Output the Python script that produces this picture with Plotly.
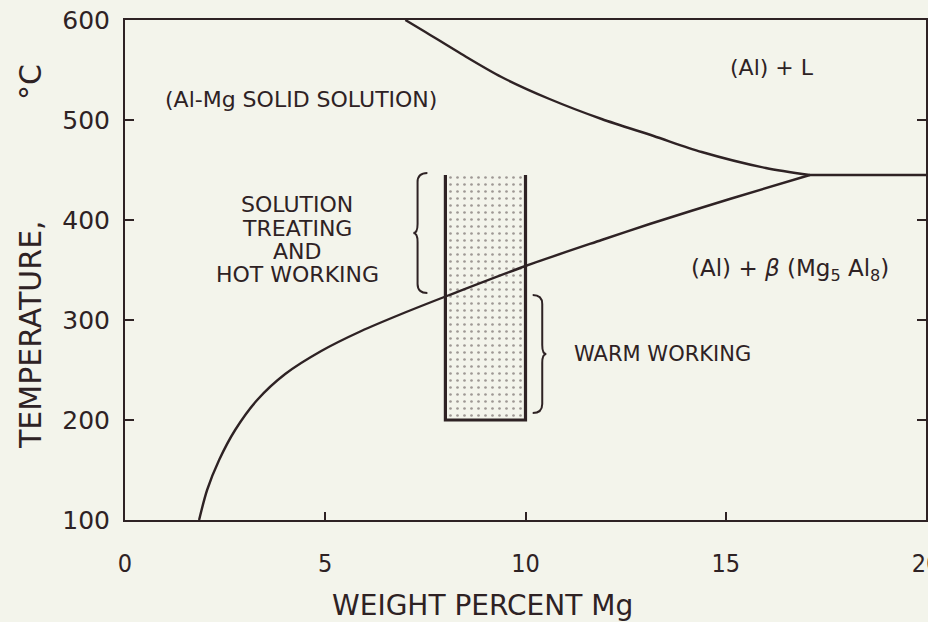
import plotly.graph_objects as go

# Al-Mg phase diagram, aluminium-rich side
# solid solution boundary against (Al)+L
solidus_mg = [7.0, 7.5, 8.4, 9.4, 10.6, 11.9, 13.2, 14.4, 16.0, 17.1]
solidus_t = [600, 588, 566, 543, 521, 501, 484, 468, 452, 445]

# solvus: solubility limit of Mg in (Al)
solvus_mg = [1.85, 2.05, 2.35, 2.75, 3.3, 4.0, 4.9, 5.9, 6.9, 8.1, 10.0, 11.9, 13.1, 15.1, 17.1]
solvus_t = [100, 130, 160, 190, 220, 246, 269, 289, 306, 325, 354, 380, 396, 421, 445]

# eutectic isotherm
eutectic_mg = [17.1, 20.0]
eutectic_t = [445, 445]

# processing band (composition range, temperature range)
band_mg = [8.0, 10.0]
band_t = [200, 445]

# temperature ranges of the two working regimes
hot_range = [327, 447]
warm_range = [207, 325]

x_ticks = [0, 5, 10, 15, 20]
y_ticks = [100, 200, 300, 400, 500, 600]

INK = "#2e2224"
PAPER = "#f3f4eb"
FONT = "DejaVu Sans"

fig = go.Figure()

# stippled band
fig.add_trace(go.Scatter(
    x=[band_mg[0], band_mg[0], band_mg[1], band_mg[1], band_mg[0]],
    y=[band_t[1], band_t[0], band_t[0], band_t[1], band_t[1]],
    mode="lines", line=dict(width=0), fill="toself",
    fillcolor=PAPER,
    fillpattern=dict(shape=".", fgcolor="#4a3c3e", bgcolor=PAPER, size=7, solidity=0.12),
    hoverinfo="skip", showlegend=False,
))
# band edges (open at the top)
fig.add_trace(go.Scatter(
    x=[band_mg[0], band_mg[0], band_mg[1], band_mg[1]],
    y=[band_t[1], band_t[0], band_t[0], band_t[1]],
    mode="lines", line=dict(color=INK, width=3.2),
    hoverinfo="skip", showlegend=False,
))

line_style = dict(color=INK, width=2.4)
fig.add_trace(go.Scatter(x=solidus_mg, y=solidus_t, mode="lines",
                         line=dict(**line_style, shape="spline", smoothing=0.8),
                         showlegend=False))
fig.add_trace(go.Scatter(x=solvus_mg, y=solvus_t, mode="lines",
                         line=dict(**line_style, shape="spline", smoothing=0.8),
                         showlegend=False))
fig.add_trace(go.Scatter(x=eutectic_mg, y=eutectic_t, mode="lines",
                         line=line_style, showlegend=False))


def brace(x_end, x_tip, y_top, y_bot, d=9.0):
    xm = x_end + (x_tip - x_end) * 0.7
    ym = (y_top + y_bot) / 2
    return (f"M {x_end},{y_top} Q {xm},{y_top} {xm},{y_top - d} "
            f"L {xm},{ym + d} Q {xm},{ym} {x_tip},{ym} "
            f"Q {xm},{ym} {xm},{ym - d} "
            f"L {xm},{y_bot + d} Q {xm},{y_bot} {x_end},{y_bot}")


fig.add_shape(type="path", xref="x", yref="y",
              path=brace(7.55, 7.2, hot_range[1], hot_range[0]),
              line=dict(color=INK, width=2))
fig.add_shape(type="path", xref="x", yref="y",
              path=brace(10.18, 10.52, warm_range[1], warm_range[0]),
              line=dict(color=INK, width=2))

ann = [
    dict(x=4.4, y=521, text="(Al-Mg SOLID SOLUTION)",
         font=dict(family=FONT, size=22, color=INK)),
    dict(x=16.15, y=553, text="(Al) + L", font=dict(family=FONT, size=22, color=INK)),
    dict(x=16.6, y=350, text="(Al) + <i>β</i> (Mg<sub>5</sub> Al<sub>8</sub>)",
         font=dict(family=FONT, size=23, color=INK)),
    dict(x=11.16, y=266, text="WARM WORKING", xanchor="left",
         font=dict(family=FONT, size=21, color=INK)),
]
for txt, t in zip(["SOLUTION", "TREATING", "AND", "HOT WORKING"], [416, 392, 369, 346]):
    ann.append(dict(x=4.3, y=t, text=txt, borderpad=0,
                    font=dict(family=FONT, size=22, color=INK)))
for a in ann:
    a.setdefault("xanchor", "center")
    fig.add_annotation(xref="x", yref="y", showarrow=False, yanchor="middle", **a)

# axis titles
fig.add_annotation(xref="paper", yref="paper", x=(30 - 125) / 801, y=1 - (335 - 20) / 500,
                   text="TEMPERATURE,", textangle=-90, showarrow=False,
                   xanchor="center", yanchor="middle",
                   font=dict(family=FONT, size=30, color=INK))
fig.add_annotation(xref="paper", yref="paper", x=(30 - 125) / 801, y=1 - (82 - 20) / 500,
                   text="°C", textangle=-90, showarrow=False,
                   xanchor="center", yanchor="middle",
                   font=dict(family=FONT, size=30, color=INK))
fig.add_annotation(xref="paper", yref="paper", x=(482 - 125) / 801, y=-(605 - 520) / 500,
                   text="WEIGHT PERCENT Mg", showarrow=False,
                   xanchor="center", yanchor="middle",
                   font=dict(family=FONT, size=28, color=INK))

fig.update_xaxes(range=[0, 20], tickvals=x_ticks, ticktext=[str(v) for v in x_ticks],
                 ticks="inside", ticklen=8, tickwidth=2, tickcolor=INK,
                 showline=True, linecolor=INK, linewidth=2, mirror=True,
                 showgrid=False, zeroline=False, automargin=False,
                 ticklabelstandoff=20, ticklabeloverflow="allow",
                 tickfont=dict(family="DejaVu Sans Condensed, DejaVu Sans", size=25, color=INK))
fig.update_yaxes(range=[100, 600], tickvals=y_ticks,
                 ticks="inside", ticklen=9, tickwidth=2, tickcolor=INK,
                 showline=True, linecolor=INK, linewidth=2, mirror="ticks",
                 showgrid=False, zeroline=False, automargin=False,
                 ticklabelstandoff=8,
                 tickfont=dict(family=FONT, size=25, color=INK))

fig.update_layout(width=928, height=622,
                  margin=dict(l=125, r=2, t=20, b=102),
                  paper_bgcolor=PAPER, plot_bgcolor=PAPER,
                  showlegend=False)

fig.write_html("out.html")
